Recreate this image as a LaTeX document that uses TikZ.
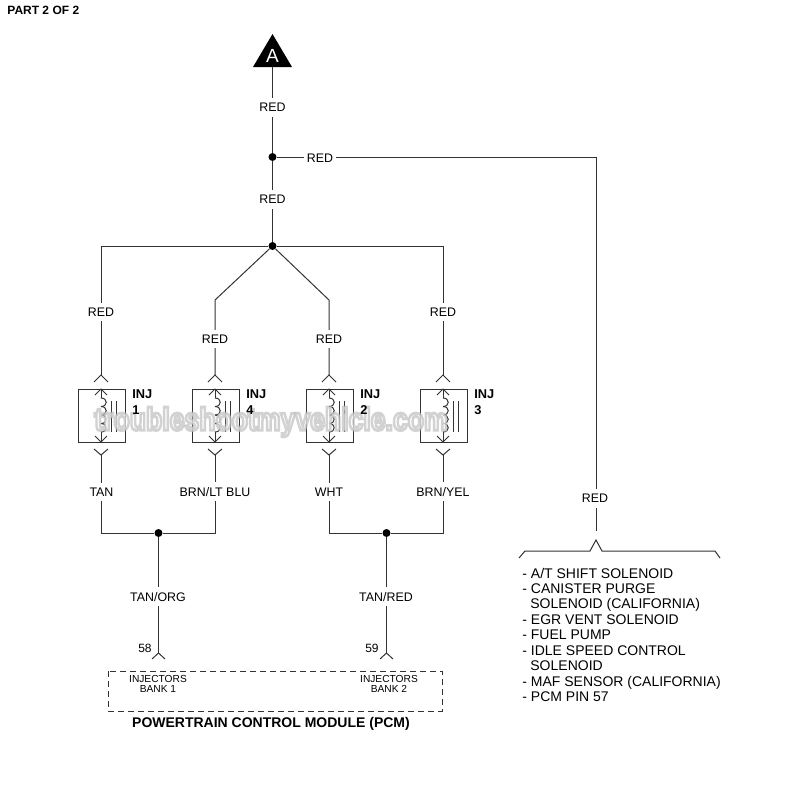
\documentclass[tikz,border=0pt]{standalone}
\usepackage{fontspec}
\setmainfont{Liberation Sans}
\tikzset{
  wire/.style={line width=.5pt,black!80},
  wirelab/.style={fill=white,yshift=-.4pt,font=\fontsize{6.2}{7}\selectfont,inner xsep=1.7pt,inner ysep=2.5pt},
  dot/.style={circle,fill=black,inner sep=0pt,minimum size=4pt},
  injbox/.style={draw=black!80,line width=.5pt,fill=white,minimum width=23.5pt,minimum height=26.5pt,inner sep=0pt},
  injlab/.style={font=\fontsize{6.4}{7.6}\selectfont\bfseries,inner sep=0pt,anchor=west},
  pcmlab/.style={font=\fontsize{5.1}{5.1}\selectfont,align=center,inner sep=0pt},
  marklab/.style={font=\fontsize{13.3}{15}\selectfont\bfseries,inner sep=0pt,yscale=1.2},
}
\begin{document}
\begin{tikzpicture}[x=.5pt,y=-.5pt]
\useasboundingbox (0,0) rectangle (800,800);
\node[font=\fontsize{6}{7}\selectfont\bfseries,anchor=west,inner sep=0pt] (part) at (7,10.5) {PART 2 OF 2};

% triangle at the top
\fill (272.5,34) -- (253,67) -- (292,67) -- cycle;
\node[white,font=\fontsize{9.5}{9.5}\selectfont,inner sep=0pt] (tria) at (272.5,56) {A};
\coordinate (tribase) at (272.5,67);
\node[dot] (jtop) at (272.5,157) {};
\node[dot] (jmid) at (272.5,246) {};
\coordinate (cright) at (596,157);
\coordinate (cbrack) at (596,531);
\draw[wire] (tribase) -- (jtop);
\draw[wire] (jtop) -- (jmid);
\draw[wire] (jtop) -- (cright) -- (cbrack);
\node[wirelab] (reda) at (272.5,106.5) {RED};
\node[wirelab] (redb) at (272.5,198.5) {RED};
\node[wirelab] (redc) at (320,157) {RED};
\node[wirelab] (redd) at (595,497.5) {RED};

% brace over the list
\draw[wire] (519,558) -- (525,551) -- (590,551) -- (596,540) -- (602,551) -- (715,551) -- (720,558);
\node[anchor=north west,align=left,inner sep=0pt,font=\fontsize{7}{7.72}\selectfont] (list) at (522,567.5) {- A/T SHIFT SOLENOID\\
- CANISTER PURGE\\
\hspace{4pt}SOLENOID (CALIFORNIA)\\
- EGR VENT SOLENOID\\
- FUEL PUMP\\
- IDLE SPEED CONTROL\\
\hspace{4pt}SOLENOID\\
- MAF SENSOR (CALIFORNIA)\\
- PCM PIN 57};

% injectors
\coordinate (ca) at (101,246);
\coordinate (cb) at (215,300);
\coordinate (cc) at (329,300);
\coordinate (cd) at (443,246);
\draw[wire] (jmid) -- (ca) -- (101,375);
\draw[wire] (jmid) -- (cb) -- (215,375);
\draw[wire] (jmid) -- (cc) -- (329,375);
\draw[wire] (jmid) -- (cd) -- (443,375);
\foreach \cx/\num/\ly in {101/1/311,215/4/338,329/2/338,443/3/311}{
  \node[wirelab] (red\num) at (\cx,\ly) {RED};
  \draw[wire] (\cx-7,382) -- (\cx,375) -- (\cx+7,382);
  \node[injbox] (inj\num) at (\cx+1,415.5) {};
  \draw[wire] (\cx-6,395) -- (\cx,389) -- (\cx+6,395);
  \draw[wire] (\cx-6,436) -- (\cx,442) -- (\cx+6,436);
  \draw[wire] (\cx,389) -- (\cx,398);
  \draw[wire] (\cx,432) -- (\cx,442);
  \foreach \i in {0,...,3}
    \draw[wire] (\cx,398+8.5*\i) .. controls (\cx+7,398+8.5*\i) and (\cx+7,406.5+8.5*\i) .. (\cx,406.5+8.5*\i);
  \draw[wire] (\cx+10,401) -- (\cx+10,432);
  \draw[wire] (\cx+15,401) -- (\cx+15,432);
  \draw[wire] (\cx-7,449) -- (\cx,455) -- (\cx+7,449);
}

% bottom wires
\node[dot] (jleft) at (158.5,533) {};
\node[dot] (jright) at (386.5,533) {};
\draw[wire] (101,455) |- (jleft);
\draw[wire] (215,455) |- (jleft);
\draw[wire] (329,455) |- (jright);
\draw[wire] (443,455) |- (jright);
\node[wirelab] (tan) at (101.5,491) {TAN};
\node[wirelab] (brnblu) at (215,491) {BRN/LT BLU};
\node[wirelab] (wht) at (329,491) {WHT};
\node[wirelab] (brnyel) at (443,491) {BRN/YEL};
\coordinate (pina) at (158.5,653);
\coordinate (pinb) at (386.5,653);
\draw[wire] (jleft) -- (pina);
\draw[wire] (jright) -- (pinb);
\draw[wire] (152,659) -- (pina) -- (165,659);
\draw[wire] (380,659) -- (pinb) -- (393,659);
\node[wirelab] (tanorg) at (158,596) {TAN/ORG};
\node[wirelab] (tanred) at (386,596) {TAN/RED};
\node[font=\fontsize{6}{7}\selectfont,inner sep=0pt] (pinfl) at (145,648.5) {58};
\node[font=\fontsize{6}{7}\selectfont,inner sep=0pt] (pinfr) at (372,648.5) {59};

% pcm
\draw[wire,dash pattern=on 3pt off 2pt] (108,671) rectangle (442,711);
\node[pcmlab] (bankl) at (158,684) {INJECTORS\\BANK 1};
\node[pcmlab] (bankr) at (389,684) {INJECTORS\\BANK 2};
\node[font=\fontsize{7}{8}\selectfont\bfseries,inner sep=0pt] (pcm) at (271,724) {POWERTRAIN CONTROL MODULE (PCM)};

% watermark
\node[marklab,white,opacity=.7] (mark) at (271,422) {\special{pdf:code 2 Tr 1.2 w 0.75 G}troubleshootmyvehicle.com\special{pdf:code 0 Tr 1 w}};

% inj labels sit over the watermark
\foreach \cx/\num in {101/1,215/4,329/2,443/3}{
  \node[injlab] (injt\num) at (\cx+31,394.5) {INJ};
  \node[injlab] (injn\num) at (\cx+31,410) {\num};
}
\end{tikzpicture}
\end{document}
